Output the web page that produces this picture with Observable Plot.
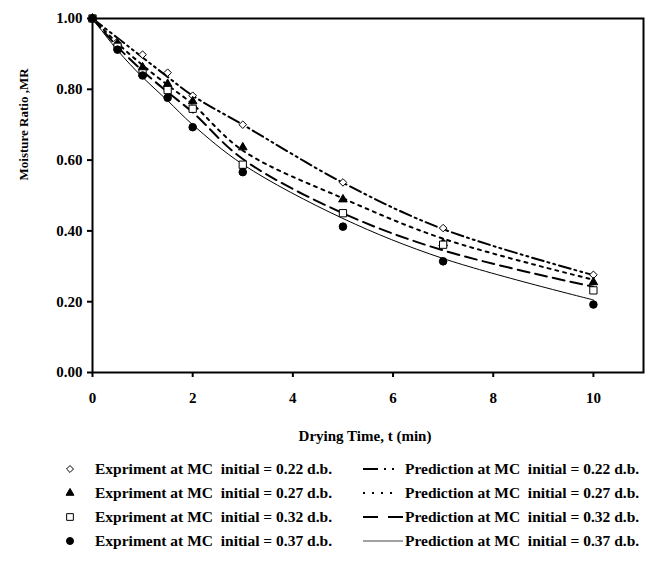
<!DOCTYPE html>
<html><head><meta charset="utf-8">
<script src="https://cdn.jsdelivr.net/npm/d3@7"></script>
<script src="https://cdn.jsdelivr.net/npm/@observablehq/plot@0.6"></script>
<style>
body{margin:0;background:#fff;font-family:"Liberation Serif","Times New Roman",serif;}
#chart{position:relative;width:651px;height:580px;overflow:hidden;}
#legend{position:relative;width:651px;height:130px;font-weight:bold;font-size:15.5px;color:#000;}
.item{position:absolute;display:flex;align-items:center;height:20px;white-space:pre;}
.item svg{flex:none;}
</style></head><body><div id="chart"></div>
<script>
// ---- data ----
const times = [0, 0.5, 1, 1.5, 2, 3, 5, 7, 10];
const seriesMC = ["0.22", "0.27", "0.32", "0.37"];
const exp022 = [1.00, 0.935, 0.898, 0.847, 0.782, 0.700, 0.537, 0.408, 0.276];
const exp027 = [1.00, 0.930, 0.862, 0.815, 0.766, 0.636, 0.489, 0.365, 0.255];
const exp032 = [1.00, 0.920, 0.845, 0.798, 0.745, 0.587, 0.450, 0.361, 0.232];
const exp037 = [1.00, 0.912, 0.839, 0.776, 0.693, 0.566, 0.412, 0.314, 0.192];
const pred022 = [1.00, 0.945, 0.890, 0.835, 0.782, 0.700, 0.536, 0.405, 0.275];
const pred027 = [1.00, 0.930, 0.868, 0.812, 0.758, 0.627, 0.492, 0.378, 0.262];
const pred032 = [1.00, 0.920, 0.852, 0.792, 0.735, 0.603, 0.450, 0.345, 0.242];
const pred037 = [1.00, 0.910, 0.834, 0.768, 0.700, 0.588, 0.435, 0.322, 0.205];
const xTicks = [0, 2, 4, 6, 8, 10];
const yTicks = [0, 0.2, 0.4, 0.6, 0.8, 1.0];
const xTitle = "Drying Time, t (min)";
const yTitle = "Moisture Ratio ,MR";

const expSeries = [exp022, exp027, exp032, exp037];
const predSeries = [pred022, pred027, pred032, pred037];
const toRows = (vals, mc) => vals.map((v, i) => ({t: times[i], mr: v, mc}));

const symbols = ["diamond2", "triangle", "square", "circle"];
const symR = [3.4, 3.2, 4.1, 3.8];
const symFill = ["white", "black", "white", "black"];
const dashes = ["12,4,2,4,2,4", "3,5", "12,6", null];
const widths = [2, 2, 2, 1];

const font = '"Liberation Serif","Times New Roman",serif';

const marks = [];
predSeries.forEach((vals, i) => {
  marks.push(Plot.line(toRows(vals, seriesMC[i]), {
    x: "t", y: "mr", curve: "catmull-rom", stroke: "black",
    strokeWidth: widths[i], strokeDasharray: dashes[i] || undefined
  }));
});
expSeries.forEach((vals, i) => {
  marks.push(Plot.dot(toRows(vals, seriesMC[i]), {
    x: "t", y: "mr", symbol: symbols[i], r: symR[i],
    fill: symFill[i], stroke: "black", strokeWidth: 1
  }));
});

const chart = Plot.plot({
  width: 651, height: 450,
  marginLeft: 92, marginRight: 8, marginTop: 18, marginBottom: 78,
  style: {fontFamily: font, fontWeight: "bold", fontSize: "15px", color: "#000", background: "#fff", overflow: "visible"},
  x: {domain: [0, 11]},
  y: {domain: [0, 1]},
  marks: [
    Plot.frame({stroke: "black", strokeWidth: 2}),
    Plot.axisX({ticks: xTicks, tickFormat: d => String(d), tickSize: 5, tickPadding: 15, strokeWidth: 2, label: null}),
    Plot.axisY({ticks: yTicks, tickFormat: d3.format(".2f"), tickSize: 5, tickPadding: 5, strokeWidth: 2, label: null}),
    ...marks,
    Plot.text([xTitle], {text: d => d, frameAnchor: "bottom", dy: 68, dx: -3, fontSize: 15, fontWeight: "bold"}),
    Plot.text([yTitle], {text: d => d, frameAnchor: "left", rotate: -90, dx: -69, dy: -15, fontSize: 13, fontWeight: "bold"})
  ]
});
document.getElementById("chart").appendChild(chart);

// ---- legend (HTML below the SVG) ----
const legend = document.createElement("div");
legend.id = "legend";
const rowTops = [19, 43, 67, 91]; // row centres below the SVG
const ns = "http://www.w3.org/2000/svg";
const symMap = {diamond2: d3.symbolDiamond2, triangle: d3.symbolTriangle, square: d3.symbolSquare, circle: d3.symbolCircle};
const swatchDash = ["15,6,2,6,2", "2,7", "15,10", null];
seriesMC.forEach((mc, i) => {
  // experiment item
  const a = document.createElement("div");
  a.className = "item";
  a.style.left = "60px"; a.style.top = (rowTops[i] - 10) + "px";
  const s1 = document.createElementNS(ns, "svg");
  s1.setAttribute("width", 20); s1.setAttribute("height", 20);
  const p = document.createElementNS(ns, "path");
  p.setAttribute("d", d3.symbol(symMap[symbols[i]], Math.PI * symR[i] * symR[i] * 0.85)());
  p.setAttribute("transform", "translate(10,10)");
  p.setAttribute("fill", symFill[i]); p.setAttribute("stroke", "black"); p.setAttribute("stroke-width", 1);
  s1.appendChild(p);
  a.appendChild(s1);
  const t1 = document.createElement("span");
  t1.style.marginLeft = "15px";
  t1.textContent = `Expriment at MC  initial = ${mc} d.b.`;
  a.appendChild(t1);
  legend.appendChild(a);
  // prediction item
  const b = document.createElement("div");
  b.className = "item";
  b.style.left = "363px"; b.style.top = (rowTops[i] - 10) + "px";
  const s2 = document.createElementNS(ns, "svg");
  s2.setAttribute("width", 40); s2.setAttribute("height", 20);
  const l = document.createElementNS(ns, "line");
  l.setAttribute("x1", 0); l.setAttribute("x2", i === 1 ? 32 : 40); l.setAttribute("y1", 10); l.setAttribute("y2", 10);
  l.setAttribute("stroke", i === 3 ? "#444" : "black"); l.setAttribute("stroke-width", widths[i]);
  if (swatchDash[i]) l.setAttribute("stroke-dasharray", swatchDash[i]);
  s2.appendChild(l);
  b.appendChild(s2);
  const t2 = document.createElement("span");
  t2.style.marginLeft = "2px";
  t2.textContent = `Prediction at MC  initial = ${mc} d.b.`;
  b.appendChild(t2);
  legend.appendChild(b);
});
document.getElementById("chart").appendChild(legend);
</script>
</body></html>
